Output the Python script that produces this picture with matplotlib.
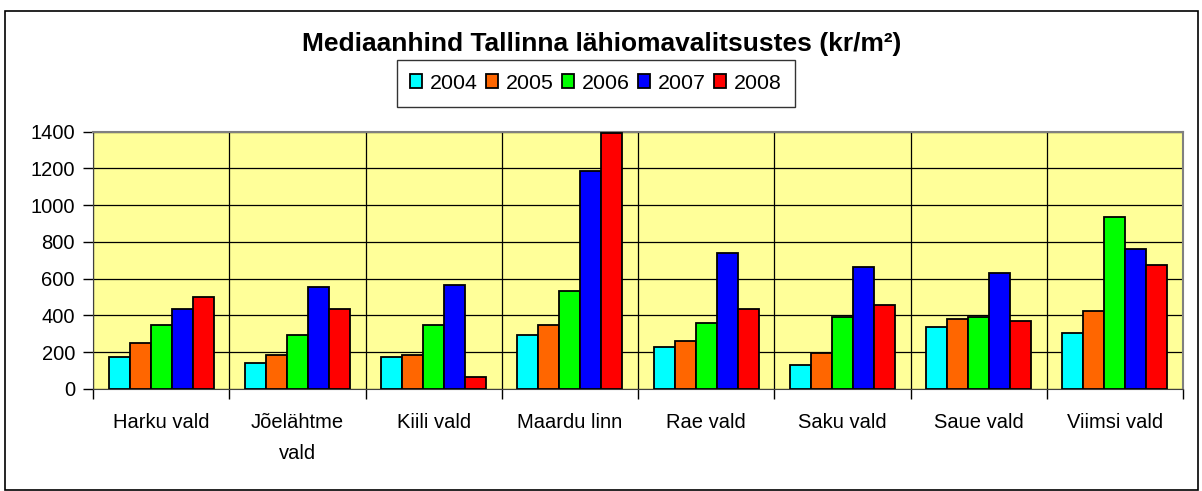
import matplotlib.pyplot as plt
import numpy as np
from matplotlib.patches import Rectangle

plt.rcParams['font.family'] = ['Liberation Sans', 'DejaVu Sans']

# data
vallad = ["Harku vald", "Jõelähtme\nvald", "Kiili vald", "Maardu linn",
          "Rae vald", "Saku vald", "Saue vald", "Viimsi vald"]
aastad = ["2004", "2005", "2006", "2007", "2008"]
h2004 = [174, 141, 174, 293, 230, 130, 337, 306]
h2005 = [250, 187, 187, 348, 261, 196, 382, 426]
h2006 = [350, 293, 348, 534, 359, 393, 393, 937]
h2007 = [437, 556, 567, 1188, 741, 663, 632, 761]
h2008 = [500, 435, 67, 1395, 437, 457, 371, 676]
varvid = ["#00FFFF", "#FF6600", "#00FF00", "#0000FF", "#FF0000"]

W, H = 1202, 491
fig = plt.figure(figsize=(W / 100, H / 100), dpi=100)
fig.patches.append(Rectangle((5 / W, 1 - 490 / H), 1193 / W, 479 / H,
                             transform=fig.transFigure, fill=False,
                             edgecolor="black", linewidth=1.2))

ax = fig.add_axes([93 / W, 1 - 389 / H, 1090 / W, 257.3 / H])
ax.set_facecolor("#FFFF99")

x = np.arange(len(vallad))
bw = 1 / 6.5
seeriad = [h2004, h2005, h2006, h2007, h2008]
for i, (s, c, a) in enumerate(zip(seeriad, varvid, aastad)):
    ax.bar(x + (i - 2) * bw, s, bw, color=c, edgecolor="black",
           linewidth=1.3, label=a, zorder=3)

ax.set_xlim(-0.5, len(vallad) - 0.5)
ax.set_ylim(0, 1400)
ax.set_yticks(np.arange(0, 1401, 200))
ax.set_xticks(np.arange(-0.5, len(vallad), 1))
ax.set_xticklabels([])
ax.set_xticks(x, minor=True)
ax.set_xticklabels(vallad, minor=True, fontsize=14.5, linespacing=1.85)
ax.tick_params(axis="x", which="minor", length=0, pad=17)
ax.tick_params(axis="x", which="major", length=7, width=1, direction="out")
ax.tick_params(axis="y", length=7, width=1, labelsize=14.5, pad=6)
ax.grid(True, which="major", color="black", linewidth=0.9, zorder=1)
ax.set_axisbelow(True)
for sp in ["top", "right"]:
    ax.spines[sp].set_color("#808080")
    ax.spines[sp].set_linewidth(1.5)
for sp in ["left", "bottom"]:
    ax.spines[sp].set_color("#404040")

fig.text(602 / W, 1 - 44 / H, "Mediaanhind Tallinna lähiomavalitsustes (kr/m²)",
         ha="center", va="center", fontsize=19, fontweight="bold")

leg = fig.legend(loc="center", bbox_to_anchor=(596 / W, 1 - 83.3 / H), ncol=5,
                 fontsize=15.4, frameon=True, fancybox=False, edgecolor="black",
                 handlelength=0.56, handleheight=0.65, handletextpad=0.35,
                 columnspacing=0.4, borderpad=0.65)
leg.get_frame().set_linewidth(1.0)

fig.savefig("out.png", dpi=100)
